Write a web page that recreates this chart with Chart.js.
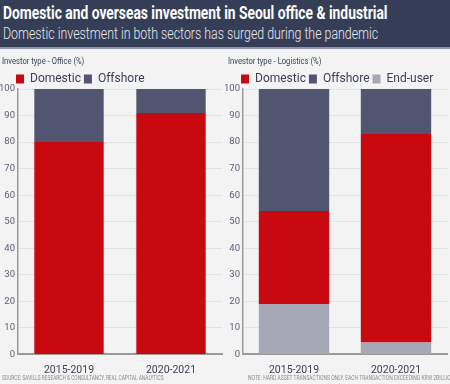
<!DOCTYPE html>
<html><head><meta charset="utf-8">
<script src="https://cdn.jsdelivr.net/npm/chart.js@4"></script>
<style>
html,body{margin:0;padding:0;}
body{width:450px;height:384px;background:#f3f3f3;position:relative;overflow:hidden;font-family:Roboto,sans-serif;}
#hdr{position:absolute;left:0;top:0;width:450px;height:47px;background:#363e57;border-bottom:2px solid #8d93a8;}
#t1{position:absolute;left:3px;top:3px;color:#fff;font-weight:bold;font-size:17.5px;white-space:nowrap;transform:scaleX(0.79);transform-origin:left top;}
#t2{position:absolute;left:3px;top:24px;color:#e8e9ef;font-weight:300;font-size:16px;white-space:nowrap;transform:scaleX(0.772);transform-origin:left top;}
.box{position:absolute;top:50px;height:332px;}
.ptitle{position:absolute;top:56px;font-size:9px;color:#3a3f55;white-space:nowrap;transform:scaleX(0.85);transform-origin:left top;}
.foot{position:absolute;top:374px;font-size:6.5px;color:#8a8a8a;white-space:nowrap;transform-origin:left top;}
</style></head><body>
<div id="hdr"><div id="t1">Domestic and overseas investment in Seoul office &amp; industrial</div>
<div id="t2">Domestic investment in both sectors has surged during the pandemic</div></div>
<div class="box" style="left:0;width:225px;"><canvas id="c1"></canvas></div>
<div class="box" style="left:225px;width:225px;"><canvas id="c2"></canvas></div>
<div class="ptitle" style="left:2px;">Investor type - Office (%)</div>
<div class="ptitle" style="left:228px;">Investor type - Logistics (%)</div>
<div class="foot" style="left:2px;transform:scaleX(0.74);">SOURCE: SAVILLS RESEARCH &amp; CONSULTANCY, REAL CAPITAL ANALYTICS</div>
<div class="foot" style="left:248px;transform:scaleX(0.765);">NOTE: HARD ASSET TRANSACTIONS ONLY. EACH TRANSACTION EXCEEDING KRW 2BILLION</div>
<script>
const categories = ['2015-2019', '2020-2021'];
const yTicks = [0,10,20,30,40,50,60,70,80,90,100];
const officeDomestic = [80, 91];
const officeOffshore = [20, 9];
const logisticsEndUser = [19, 4.5];
const logisticsDomestic = [35, 78.5];
const logisticsOffshore = [46, 17];
const legendRank = {'Domestic':0,'Offshore':1,'End-user':2};

const RED='#c8090f', NAVY='#51556f', GREY='#a6a8b6';
const FONT='Roboto, sans-serif';

// trims the legend's fixed bottom gap and nudges it right, as in the reference
const legendTweak = {
  id:'legendTweak',
  beforeLayout(chart){
    const l = chart.legend;
    if (l && !l._patched){
      const f = l.fit.bind(l);
      l.fit = function(){ f(); this.height = Math.max(0, this.height - 6); };
      l._patched = true;
    }
  },
  afterLayout(chart){
    const l = chart.legend;
    if (l){ l.left += 13; l.right += 13; }
  }
};

function opts(catPct){
  return {
    responsive:true, maintainAspectRatio:false, animation:false,
    layout:{padding:{left:0,right:3,top:20,bottom:3}},
    plugins:{
      title:{display:false},
      legend:{display:true,align:'start',labels:{boxWidth:8,boxHeight:9,color:'#3a3f5a',font:{family:FONT,size:12},padding:3,
        sort:(a,b)=>legendRank[a.text]-legendRank[b.text]}},
      tooltip:{enabled:false}
    },
    scales:{
      x:{stacked:true,grid:{display:false},border:{color:'#9a9a9a',width:2},
         ticks:{color:'#3a3f55',font:{family:FONT,size:10.5},padding:2}},
      y:{stacked:true,min:0,max:100,grid:{color:'#e2e2e2',drawTicks:false},border:{color:'#9a9a9a',width:1.5},
         afterBuildTicks:(ax)=>{ax.ticks=yTicks.map(v=>({value:v}));},
         afterFit:(ax)=>{ax.width=18;ax.paddingTop=2;},
         ticks:{color:'#5a5f75',font:{family:FONT,size:9.5},padding:3}}
    },
    datasets:{bar:{categoryPercentage:catPct,barPercentage:1}}
  };
}

new Chart(document.getElementById('c1'),{
  type:'bar',
  data:{labels:categories,datasets:[
    {label:'Domestic',data:officeDomestic,backgroundColor:RED},
    {label:'Offshore',data:officeOffshore,backgroundColor:NAVY}
  ]},
  options:opts(0.68),
  plugins:[legendTweak]
});
new Chart(document.getElementById('c2'),{
  type:'bar',
  data:{labels:categories,datasets:[
    {label:'End-user',data:logisticsEndUser,backgroundColor:GREY},
    {label:'Domestic',data:logisticsDomestic,backgroundColor:RED},
    {label:'Offshore',data:logisticsOffshore,backgroundColor:NAVY}
  ]},
  options:opts(0.69),
  plugins:[legendTweak]
});
</script>
</body></html>
